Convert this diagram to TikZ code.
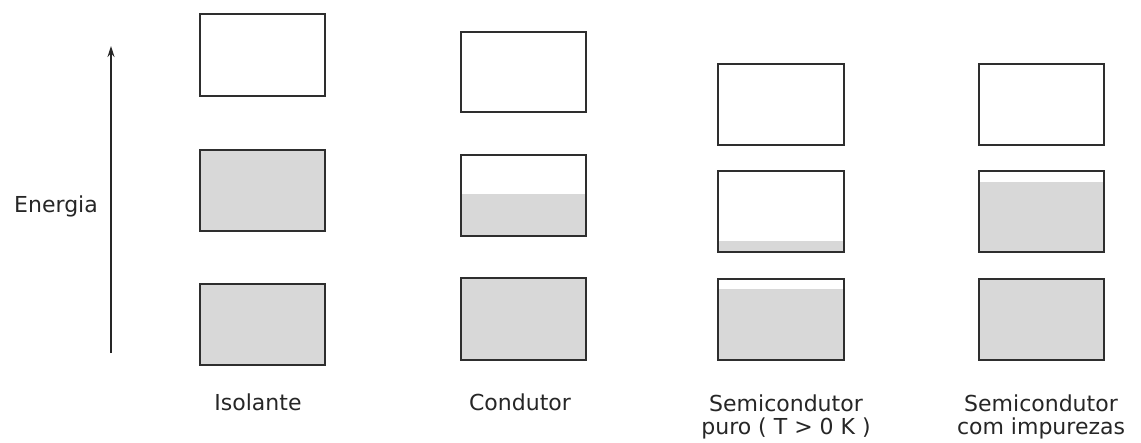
\documentclass[tikz,border=0pt]{standalone}
\usepackage{fontspec}
\setmainfont{DejaVu Sans}
\usetikzlibrary{arrows.meta}
\definecolor{bandgray}{HTML}{D8D8D8}
\definecolor{edgegray}{HTML}{2E2E2E}
\tikzset{
  band/.style={draw=edgegray, line width=1.8pt, inner sep=0pt},
  caption/.style={font=\fontsize{22}{23}\selectfont, align=center, text=black!85, inner sep=0pt, anchor=base},
}
% \bandbox{name}{left}{top}{right}{bottom}{fill top}
\newcommand{\bandbox}[6]{%
  \fill[bandgray] (#2,#6) rectangle (#4,#5);
  \node[band, minimum width={#4-#2}, minimum height={#5-#3}] (#1) at ({(#2+#4)/2},{(#3+#5)/2}) {};
}
\begin{document}
\begin{tikzpicture}[x=1pt, y=-1pt]
  \useasboundingbox (0,0) rectangle (1141,442);
  % energy axis
  \coordinate (axlow) at (111,353);
  \coordinate (axhigh) at (111,46);
  \draw[line width=1.4pt, black!85, -{Stealth[length=11pt, width=7pt]}] (axlow) -- (axhigh);
  \node[caption, anchor=base east] (energia) at (98,212) {Energia};
  % insulator
  \bandbox{iso3}{200}{14}{325}{96}{96}
  \bandbox{iso2}{200}{150}{325}{231}{150}
  \bandbox{iso1}{200}{284}{325}{365}{284}
  % conductor
  \bandbox{con3}{461}{32}{586}{112}{112}
  \bandbox{con2}{461}{155}{586}{236}{194}
  \bandbox{con1}{461}{278}{586}{360}{278}
  % intrinsic semiconductor
  \bandbox{pur3}{718}{64}{844}{145}{145}
  \bandbox{pur2}{718}{171}{844}{252}{241}
  \bandbox{pur1}{718}{279}{844}{360}{289}
  % doped semiconductor
  \bandbox{imp3}{979}{64}{1104}{145}{145}
  \bandbox{imp2}{979}{171}{1104}{252}{182}
  \bandbox{imp1}{979}{279}{1104}{360}{279}
  % captions (base anchor sits on the last line)
  \node[caption] (liso) at (258,410) {Isolante};
  \node[caption] (lcon) at (520,410) {Condutor};
  \node[caption] (lpur) at (786,434) {Semicondutor\\puro ( T > 0 K )};
  \node[caption] (limp) at (1041,434) {Semicondutor\\com impurezas};
\end{tikzpicture}
\end{document}
